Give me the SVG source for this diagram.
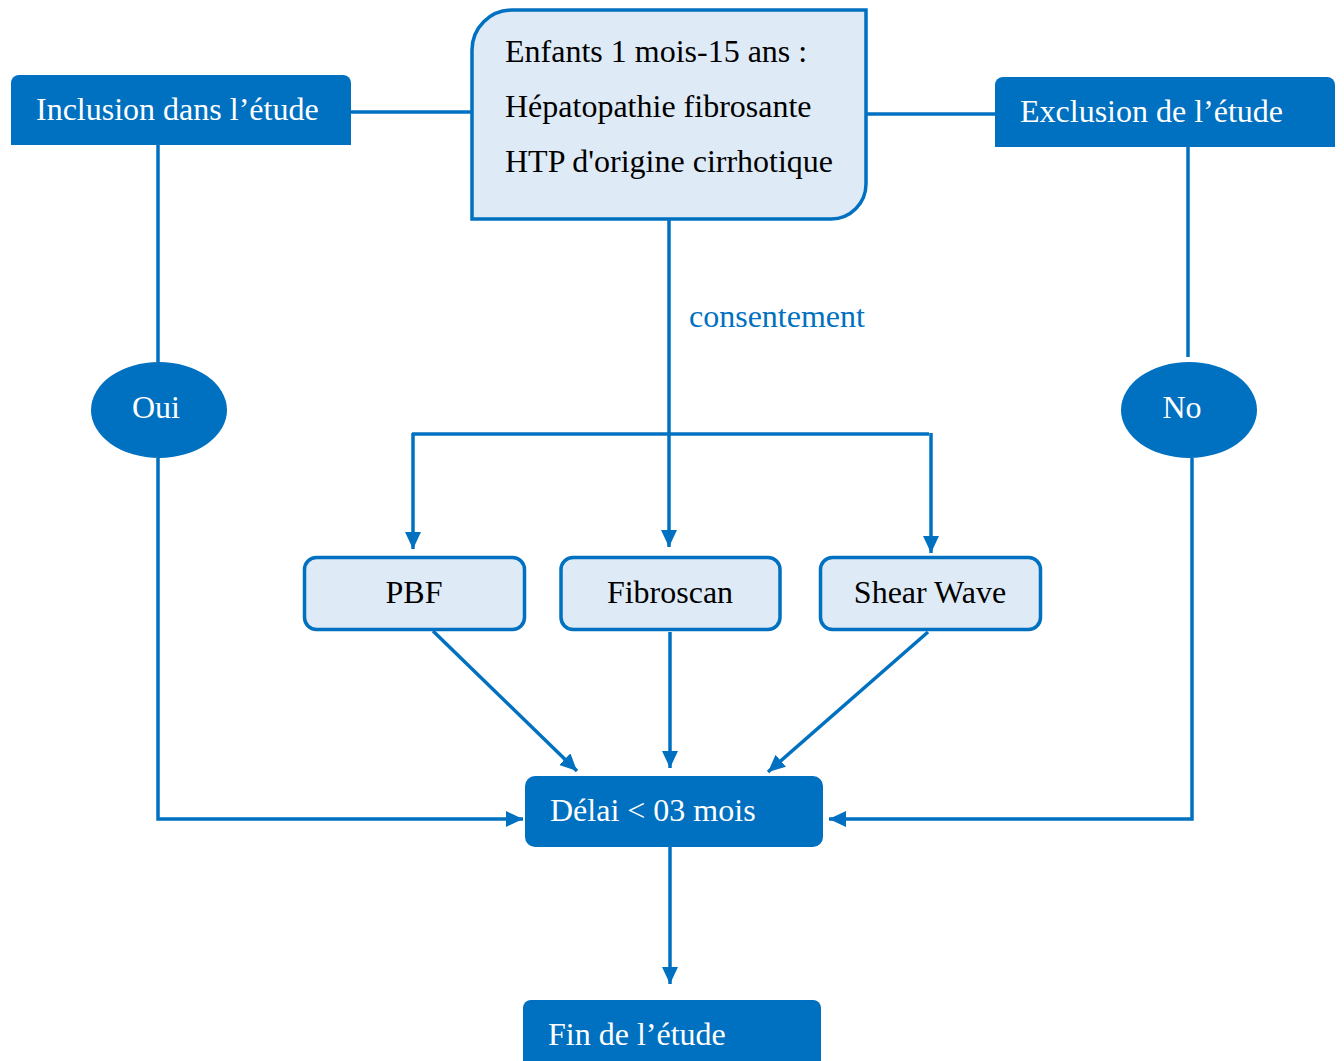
<svg xmlns="http://www.w3.org/2000/svg" width="1344" height="1061" viewBox="0 0 1344 1061">
<defs>
<style>
.dark{fill:#0070C0;}
.light{fill:#DEEAF6;stroke:#0070C0;stroke-width:3.5;}
.ln{stroke:#0070C0;stroke-width:3.5;fill:none;}
.t{font-family:"Liberation Serif","Times New Roman",serif;font-size:32px;}
.w{fill:#ffffff;}
.b{fill:#000000;}
</style>
<marker id="ah" markerUnits="userSpaceOnUse" markerWidth="18" markerHeight="16" refX="17" refY="8" orient="auto">
<path d="M0,0 L17,8 L0,16 Z" fill="#0070C0"/>
</marker>
</defs>
<rect width="1344" height="1061" fill="#ffffff"/>
<g id="connectors">
<line class="ln" x1="351" y1="112" x2="472" y2="112"/>
<line class="ln" x1="866" y1="114" x2="995" y2="114"/>
<line class="ln" x1="158" y1="145" x2="158" y2="362"/>
<polyline class="ln" points="158,458 158,819 523,819" marker-end="url(#ah)"/>
<line class="ln" x1="1188" y1="147" x2="1188" y2="357"/>
<polyline class="ln" points="1192,458 1192,819 829,819" marker-end="url(#ah)"/>
<line class="ln" x1="669" y1="219" x2="669" y2="547" marker-end="url(#ah)"/>
<line class="ln" x1="412" y1="434" x2="929" y2="434"/>
<line class="ln" x1="413" y1="433" x2="413" y2="549" marker-end="url(#ah)"/>
<line class="ln" x1="931" y1="433" x2="931" y2="553" marker-end="url(#ah)"/>
<line class="ln" x1="433" y1="631" x2="577" y2="771" marker-end="url(#ah)"/>
<line class="ln" x1="670" y1="632" x2="670" y2="768" marker-end="url(#ah)"/>
<line class="ln" x1="928" y1="632" x2="768" y2="772" marker-end="url(#ah)"/>
<line class="ln" x1="670" y1="847" x2="670" y2="984" marker-end="url(#ah)"/>
<text class="t" x="689" y="327" fill="#0070C0">consentement</text>
</g>
<g id="top">
<path class="light" d="M512,10 H866 V184 A35,35 0 0 1 831,219 H472 V50 A40,40 0 0 1 512,10 Z"/>
<text class="t b" x="505" y="62">Enfants 1 mois-15 ans :</text>
<text class="t b" x="505" y="117">Hépatopathie fibrosante</text>
<text class="t b" x="505" y="172">HTP d'origine cirrhotique</text>
</g>
<g id="inclusion">
<path class="dark" d="M19,75 H343 A8,8 0 0 1 351,83 V145 H11 V83 A8,8 0 0 1 19,75 Z"/>
<text class="t w" x="36" y="120">Inclusion dans l’étude</text>
</g>
<g id="exclusion">
<path class="dark" d="M1003,77 H1327 A8,8 0 0 1 1335,85 V147 H995 V85 A8,8 0 0 1 1003,77 Z"/>
<text class="t w" x="1020" y="122">Exclusion de l’étude</text>
</g>
<g id="oui">
<ellipse class="dark" cx="159" cy="410" rx="68" ry="48"/>
<text class="t w" x="156" y="418" text-anchor="middle">Oui</text>
</g>
<g id="no">
<ellipse class="dark" cx="1189" cy="410" rx="68" ry="48"/>
<text class="t w" x="1182" y="418" text-anchor="middle">No</text>
</g>
<g id="pbf">
<rect class="light" x="304.500" y="557.500" width="220" height="72" rx="12"/>
<text class="t b" x="414" y="603" text-anchor="middle">PBF</text>
</g>
<g id="fibroscan">
<rect class="light" x="561" y="557.500" width="219" height="72" rx="12"/>
<text class="t b" x="670" y="603" text-anchor="middle">Fibroscan</text>
</g>
<g id="shearwave">
<rect class="light" x="820.500" y="557.500" width="220" height="72" rx="12"/>
<text class="t b" x="930" y="603" text-anchor="middle">Shear Wave</text>
</g>
<g id="delai">
<rect class="dark" x="525" y="776" width="298" height="71" rx="10"/>
<text class="t w" x="550" y="821">Délai &lt; 03 mois</text>
</g>
<g id="fin">
<rect class="dark" x="523" y="1000" width="298" height="80" rx="8"/>
<text class="t w" x="548" y="1045">Fin de l’étude</text>
</g>
</svg>
